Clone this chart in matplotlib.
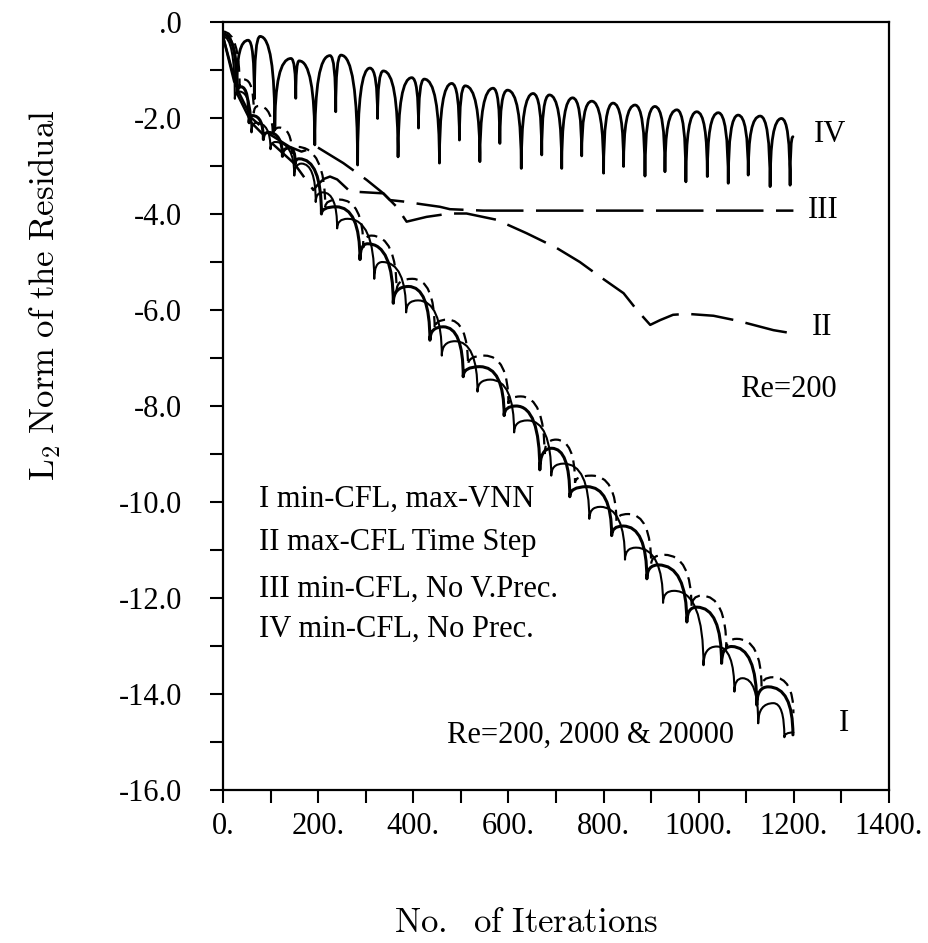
import matplotlib
matplotlib.use("Agg")
import matplotlib.pyplot as plt
from matplotlib.path import Path
from matplotlib.patches import PathPatch
from matplotlib.ticker import MultipleLocator

plt.rcParams['font.family'] = ['Liberation Serif', 'DejaVu Serif']
plt.rcParams['mathtext.fontset'] = 'cm'

# axis ticks
x_ticks = [0, 200, 400, 600, 800, 1000, 1200, 1400]
x_tick_labels = ["0.", "200.", "400.", "600.", "800.", "1000.", "1200.", "1400."]
y_ticks = [0, -2, -4, -6, -8, -10, -12, -14, -16]
y_tick_labels = [".0", "-2.0", "-4.0", "-6.0", "-8.0", "-10.0", "-12.0", "-14.0", "-16.0"]

# curve IV (min-CFL, no prec.): alternating cusps and arch tops
iv_x = [0, 29, 53, 66, 78, 109, 143, 153, 160, 193, 225, 237, 248, 283, 309, 325, 337,
        368, 397, 411, 423, 455, 481, 497, 509, 540, 568, 582, 598, 627, 652, 670, 686,
        712, 735, 754, 775, 800, 820, 842, 866, 887, 908, 929, 954, 973, 996, 1018, 1041,
        1062, 1083, 1104, 1129, 1150, 1174, 1192, 1198]
iv_y = [-0.25, -1.35, -0.38, -1.6, -0.3, -2.25, -0.76, -1.59, -0.81, -2.56, -0.70, -1.87, -0.69,
        -2.98, -0.96, -2.01, -1.02, -2.81, -1.16, -2.21, -1.19, -2.94, -1.28, -2.46, -1.33,
        -2.91, -1.38, -2.53, -1.42, -3.05, -1.49, -2.77, -1.52, -3.05, -1.58, -2.79, -1.65,
        -3.15, -1.69, -3.01, -1.73, -3.21, -1.76, -3.12, -1.83, -3.33, -1.87, -3.22, -1.89,
        -3.36, -1.94, -3.19, -1.96, -3.43, -2.01, -3.40, -2.39]

# curves I (Re=200, 2000, 20000): alternating cusps and arch tops
ia_x = [0, 30, 38, 55, 62, 85, 95, 125, 140, 152, 160, 207, 238, 288, 304, 358, 390, 435,
        463, 505, 540, 591, 616, 666, 691, 729, 765, 817, 841, 891, 915, 975, 996, 1048,
        1069, 1122, 1146, 1198]
ia_y = [-0.25, -1.5, -1.35, -2.1, -1.95, -2.45, -2.3, -2.8, -2.62, -2.95, -2.85, -4.0, -3.85,
        -4.95, -4.62, -5.86, -5.51, -6.63, -6.35, -7.39, -7.18, -8.2, -8.0, -9.33, -8.88,
        -9.89, -9.68, -10.7, -10.5, -11.6, -11.31, -12.5, -12.19, -13.36, -13.01, -14.23,
        -13.85, -14.85]

ib_x = [0, 25, 35, 60, 70, 100, 110, 150, 165, 195, 210, 240, 262, 318, 335, 385, 410, 460,
        488, 535, 562, 612, 640, 690, 716, 770, 793, 845, 868, 925, 948, 1010, 1038, 1075,
        1092, 1125, 1157, 1180, 1199]
ib_y = [-0.3, -1.6, -1.45, -2.3, -2.1, -2.65, -2.5, -3.2, -2.95, -3.75, -3.55, -4.3, -4.1,
        -5.35, -5.0, -6.05, -5.8, -6.95, -6.65, -7.7, -7.45, -8.55, -8.3, -9.45, -9.2,
        -10.35, -10.1, -11.2, -10.95, -12.1, -11.85, -13.4, -13.01, -13.95, -13.67, -14.61,
        -14.19, -14.9, -14.8]

ic_x = [0, 35, 45, 65, 75, 105, 118, 145, 155, 215, 245, 295, 312, 365, 398, 445, 472, 515,
        550, 600, 626, 676, 700, 740, 775, 827, 852, 900, 928, 985, 1006, 1058, 1080, 1132,
        1156, 1199]
ic_y = [-0.2, -1.35, -1.2, -1.9, -1.75, -2.4, -2.2, -2.75, -2.6, -3.85, -3.7, -4.7, -4.45,
        -5.6, -5.35, -6.4, -6.2, -7.15, -6.95, -7.95, -7.8, -9.0, -8.7, -9.6, -9.45, -10.4,
        -10.25, -11.3, -11.1, -12.2, -11.95, -13.05, -12.85, -13.85, -13.65, -14.4]

# curve II (max-CFL time step)
ii_x = [0, 30, 60, 100, 140, 165, 197, 253, 302, 337, 365, 386, 428, 477, 512, 575, 638,
        700, 750, 793, 842, 870, 898, 919, 946, 975, 1031, 1080, 1157, 1199]
ii_y = [-0.3, -1.4, -2.0, -2.35, -2.6, -2.7, -2.6, -2.94, -3.29, -3.57, -3.85, -4.16, -4.06,
        -3.99, -3.99, -4.12, -4.40, -4.70, -5.0, -5.31, -5.65, -6.0, -6.31, -6.21, -6.10,
        -6.08, -6.12, -6.22, -6.42, -6.49]

# curve III (min-CFL, no viscous prec.)
iii_x = [0, 30, 60, 100, 150, 190, 200, 212, 225, 240, 253, 267, 337, 351, 379, 420, 456,
         477, 547, 650, 800, 1000, 1199]
iii_y = [-0.3, -1.5, -2.1, -2.5, -2.95, -3.5, -3.38, -3.27, -3.22, -3.28, -3.40, -3.53, -3.57,
         -3.71, -3.74, -3.8, -3.85, -3.9, -3.93, -3.93, -3.93, -3.93, -3.93]

legend_lines = ["I min-CFL, max-VNN", "II max-CFL Time Step",
                "III min-CFL, No V.Prec.", "IV min-CFL, No Prec."]


def arch_path(xs, ys):
    # rounded arches between sharp cusps
    verts = [(xs[0], ys[0])]
    codes = [Path.MOVETO]
    for x0, y0, x1, y1 in zip(xs[:-1], ys[:-1], xs[1:], ys[1:]):
        ctrl = (x0, y1) if y1 > y0 else (x1, y0)
        verts += [ctrl, (x1, y1)]
        codes += [Path.CURVE3, Path.CURVE3]
    return Path(verts, codes)


fig = plt.figure(figsize=(9.29, 9.43), dpi=100)
ax = fig.add_axes([0.240, 0.1622, 0.717, 0.8145])

ax.add_patch(PathPatch(arch_path(iv_x, iv_y), fill=False, ec='black', lw=2.0,
                       joinstyle='round', capstyle='round'))
ax.add_patch(PathPatch(arch_path(ia_x, ia_y), fill=False, ec='black', lw=2.2,
                       joinstyle='round', capstyle='round'))
ax.add_patch(PathPatch(arch_path(ib_x, ib_y), fill=False, ec='black', lw=1.5,
                       joinstyle='round', capstyle='round'))
ax.add_patch(PathPatch(arch_path(ic_x, ic_y), fill=False, ec='black', lw=1.6,
                       linestyle=(0, (5, 3))))

ax.plot(ii_x, ii_y, color='black', lw=1.8, dashes=(17, 5))
ax.plot(iii_x, iii_y, color='black', lw=1.8, dashes=(19, 5))

ax.set_xlim(0, 1400)
ax.set_ylim(-16, 0)
ax.set_xticks(x_ticks)
ax.set_xticklabels(x_tick_labels)
ax.set_yticks(y_ticks)
ax.set_yticklabels(y_tick_labels)
ax.xaxis.set_minor_locator(MultipleLocator(100))
ax.yaxis.set_minor_locator(MultipleLocator(1))
ax.tick_params(which='both', direction='out', length=9.5, width=1.5, labelsize=22)
ax.tick_params(axis='x', pad=6.5)
ax.tick_params(axis='y', pad=20)
for s in ax.spines.values():
    s.set_linewidth(1.6)

txt = dict(fontsize=22, color='black')
ax.text(1276, -2.49, "IV", ha='center', va='baseline', **txt)
ax.text(1261, -4.09, "III", ha='center', va='baseline', **txt)
ax.text(1259, -6.52, "II", ha='center', va='baseline', **txt)
ax.text(1188, -7.81, "Re=200", ha='center', va='baseline', **txt)
ax.text(1305, -14.78, "I", ha='center', va='baseline', **txt)
ax.text(470, -15.02, "Re=200, 2000 & 20000", ha='left', va='baseline', **txt)
for label, yb in zip(legend_lines, [-10.10, -11.0, -11.97, -12.81]):
    ax.text(75, yb, label, ha='left', va='baseline', **txt)

fig.text(45 / 929, 1 - 295 / 943, r"$\mathrm{L_2\ Norm\ of\ the\ Residual}$",
         rotation=90, ha='center', va='center', fontsize=25)
fig.text(526 / 929, 1 - 923 / 943, r"$\mathrm{No.\ \ of\ Iterations}$",
         ha='center', va='center', fontsize=25)

fig.savefig("out.png", dpi=100)
